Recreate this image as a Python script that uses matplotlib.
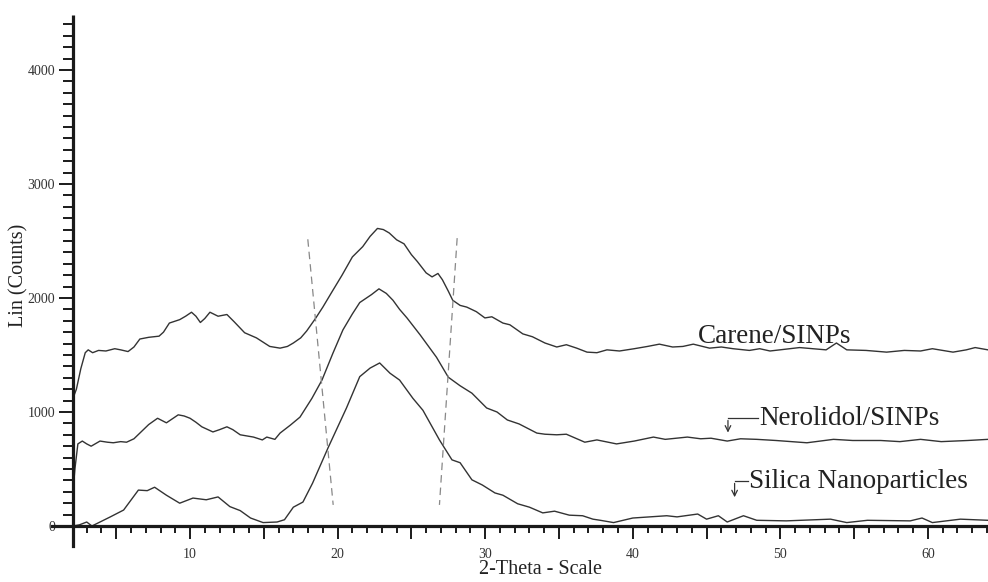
import matplotlib
matplotlib.use("Agg")
import matplotlib.pyplot as plt
from matplotlib.ticker import MultipleLocator, FuncFormatter
from matplotlib.lines import Line2D

plt.rcParams['font.family'] = ['Liberation Serif', 'DejaVu Serif']

# --- data ---
carene_x = [2.07, 2.3, 2.6, 2.9, 3.1, 3.4, 3.8, 4.3, 4.9, 5.3, 5.8, 6.2, 6.6, 7.2, 7.9,
            8.2, 8.6, 9.3, 9.7, 10.1, 10.4, 10.7, 11.0, 11.35, 11.9, 12.5, 13.0, 13.7,
            14.5, 15.4, 16.1, 16.6, 17.0, 17.5, 17.9, 18.5, 19.0, 19.6, 20.3, 21.0,
            21.7, 22.2, 22.7, 23.1, 23.5, 24.0, 24.5, 25.0, 25.4, 26.0, 26.4, 26.8,
            27.1, 27.5, 27.8, 28.3, 28.75, 29.4, 29.98, 30.45, 31.2, 31.67, 32.55,
            33.2, 34.05, 34.85, 35.5, 36.2, 36.9, 37.57, 38.25, 39.1, 40.1, 41.0,
            41.8, 42.7, 43.4, 44.1, 45.2, 46.0, 46.8, 47.9, 48.6, 49.3, 50.3, 51.3,
            52.2, 53.1, 53.8, 54.5, 55.8, 57.2, 58.4, 59.5, 60.3, 61.0, 61.7, 62.6,
            63.2, 64.07]
carene_y = [1120, 1200, 1380, 1520, 1545, 1520, 1540, 1535, 1555, 1545, 1530, 1570, 1640,
            1655, 1665, 1700, 1780, 1810, 1840, 1875, 1840, 1785, 1820, 1875, 1840, 1855,
            1790, 1695, 1650, 1575, 1560, 1575, 1605, 1650, 1710, 1820, 1920, 2050, 2200,
            2360, 2450, 2540, 2610, 2600, 2570, 2510, 2475, 2380, 2320, 2220, 2185, 2215,
            2160, 2060, 1980, 1935, 1920, 1880, 1825, 1835, 1780, 1765, 1685, 1660, 1605,
            1570, 1590, 1560, 1525, 1520, 1545, 1535, 1555, 1575, 1595, 1570, 1575, 1595,
            1560, 1570, 1555, 1540, 1555, 1535, 1550, 1565, 1555, 1545, 1605, 1545, 1540,
            1525, 1540, 1535, 1555, 1540, 1525, 1545, 1565, 1545]

nerol_x = [2.07, 2.2, 2.4, 2.7, 3.0, 3.3, 3.9, 4.4, 4.8, 5.3, 5.7, 6.2, 6.6, 7.2, 7.8,
           8.4, 8.8, 9.2, 9.6, 10.0, 10.4, 10.8, 11.55, 12.0, 12.5, 12.9, 13.4, 14.3,
           14.9, 15.2, 15.75, 16.1, 16.8, 17.45, 18.26, 18.94, 19.68, 20.36, 21.0,
           21.5, 22.3, 22.8, 23.3, 23.75, 24.2, 24.7, 25.6, 26.7, 27.5, 28.3, 29.1,
           30.1, 30.8, 31.5, 32.3, 33.5, 34.05, 34.85, 35.5, 36.75, 37.57, 38.9, 40.1,
           41.4, 42.2, 43.7, 44.6, 45.3, 46.4, 47.3, 48.4, 49.7, 51.8, 53.6, 54.9,
           56.8, 58.1, 59.5, 60.9, 62.7, 64.07]
nerol_y = [300, 500, 720, 745, 720, 700, 745, 735, 730, 740, 735, 765, 815, 890, 945,
           905, 940, 975, 965, 945, 910, 870, 825, 845, 870, 845, 800, 780, 755, 780,
           760, 815, 885, 955, 1120, 1280, 1515, 1720, 1860, 1960, 2030, 2080, 2040,
           1980, 1900, 1825, 1675, 1480, 1305, 1230, 1165, 1035, 1000, 930, 895, 815,
           805, 800, 805, 735, 755, 720, 745, 780, 760, 780, 765, 770, 745, 765, 760,
           750, 730, 760, 750, 750, 740, 760, 740, 750, 760]

silica_x = [2.07, 2.5, 3.0, 3.35, 3.9, 4.6, 5.5, 6.5, 7.1, 7.6, 8.4, 9.3, 10.2, 11.1,
            11.9, 12.7, 13.4, 14.1, 14.95, 15.9, 16.4, 17.0, 17.65, 18.3, 19.35, 20.6,
            21.5, 22.2, 22.85, 23.55, 24.2, 25.1, 25.78, 26.9, 27.75, 28.3, 29.1, 29.8,
            30.66, 31.2, 32.2, 33.0, 33.9, 34.7, 35.7, 36.6, 37.3, 37.8, 38.7, 40.0,
            42.3, 43.0, 44.4, 45.0, 45.8, 46.4, 47.5, 48.4, 50.4, 53.4, 54.5, 55.9,
            58.8, 59.6, 60.3, 62.2, 64.07]
silica_y = [0, 10, 35, 0, 35, 80, 140, 315, 310, 340, 270, 200, 245, 230, 255, 170, 135,
            70, 30, 35, 55, 165, 210, 375, 685, 1035, 1310, 1385, 1430, 1340, 1280, 1120,
            1015, 755, 580, 555, 405, 360, 290, 270, 195, 165, 115, 130, 95, 90, 60, 50,
            30, 70, 90, 80, 105, 60, 90, 35, 90, 50, 45, 60, 30, 50, 45, 70, 30, 60, 50]

guide_left_x = [17.98, 19.7]
guide_left_y = [2515, 185]
guide_right_x = [28.1, 26.9]
guide_right_y = [2525, 185]

fig = plt.figure(figsize=(9.88, 5.82), dpi=100)
ax = fig.add_axes([73 / 988, 56 / 582, 915 / 988, 511 / 582])

curve = dict(color='#333333', lw=1.0)
ax.plot(carene_x, carene_y, **curve)
ax.plot(nerol_x, nerol_y, **curve)
ax.plot(silica_x, silica_y, **curve)

guide = dict(color='#888888', lw=0.9, ls=(0, (6, 4)))
ax.plot(guide_left_x, guide_left_y, **guide)
ax.plot(guide_right_x, guide_right_y, **guide)

# labels with little arrows
ax.text(44.4, 1605, 'Carene/SINPs', fontsize=19.5, color='#222222', va='baseline')
ax.text(48.6, 885, 'Nerolidol/SINPs', fontsize=19.5, color='#222222', va='baseline')
ax.text(47.9, 333, 'Silica Nanoparticles', fontsize=19.5, color='#222222', va='baseline')
ax.plot([46.45, 48.5], [947, 947], color='#333333', lw=0.9)
ax.annotate('', xy=(46.45, 795), xytext=(46.45, 950),
            arrowprops=dict(arrowstyle='->', color='#333333', lw=0.9))
ax.plot([46.9, 47.8], [395, 395], color='#333333', lw=0.9)
ax.annotate('', xy=(46.9, 228), xytext=(46.9, 398),
            arrowprops=dict(arrowstyle='->', color='#333333', lw=0.9))

ax.set_xlim(2.07, 64.07)
ax.set_ylim(0, 4482)

for s in ['top', 'right']:
    ax.spines[s].set_visible(False)
for s in ['left', 'bottom']:
    ax.spines[s].set_linewidth(2.3)
    ax.spines[s].set_color('#1a1a1a')
    ax.spines[s].set_capstyle('butt')

# extend the axis lines past the origin
ax.add_line(Line2D([-21 / 915, 0], [0, 0], transform=ax.transAxes, color='#1a1a1a',
                   lw=2.3, clip_on=False))
ax.add_line(Line2D([0, 0], [0, -20 / 511], transform=ax.transAxes, color='#1a1a1a',
                   lw=2.3, clip_on=False))

ax.xaxis.set_major_locator(MultipleLocator(5))
ax.xaxis.set_minor_locator(MultipleLocator(1))
ax.xaxis.set_major_formatter(FuncFormatter(lambda v, p: '%d' % v if v % 10 == 0 else ''))
ax.yaxis.set_major_locator(MultipleLocator(1000))
ax.yaxis.set_minor_locator(MultipleLocator(100))

ax.tick_params(axis='x', which='major', direction='out', length=9, width=1.4,
               labelsize=10, pad=7, colors='#1a1a1a', labelcolor='#333333')
ax.tick_params(axis='x', which='minor', direction='out', length=5, width=1.4, colors='#1a1a1a')
ax.tick_params(axis='y', which='major', direction='out', length=10, width=1.4,
               labelsize=10, pad=3, colors='#1a1a1a', labelcolor='#333333')
ax.tick_params(axis='y', which='minor', direction='out', length=7, width=1.4, colors='#1a1a1a')

ax.set_xlabel('2-Theta - Scale', fontsize=14.5, color='#222222')
ax.xaxis.set_label_coords(0.511, -0.066)
ax.set_ylabel('Lin (Counts)', fontsize=14.5, color='#222222')
ax.yaxis.set_label_coords(-0.049, 0.49)

fig.savefig('out.png', dpi=100)
